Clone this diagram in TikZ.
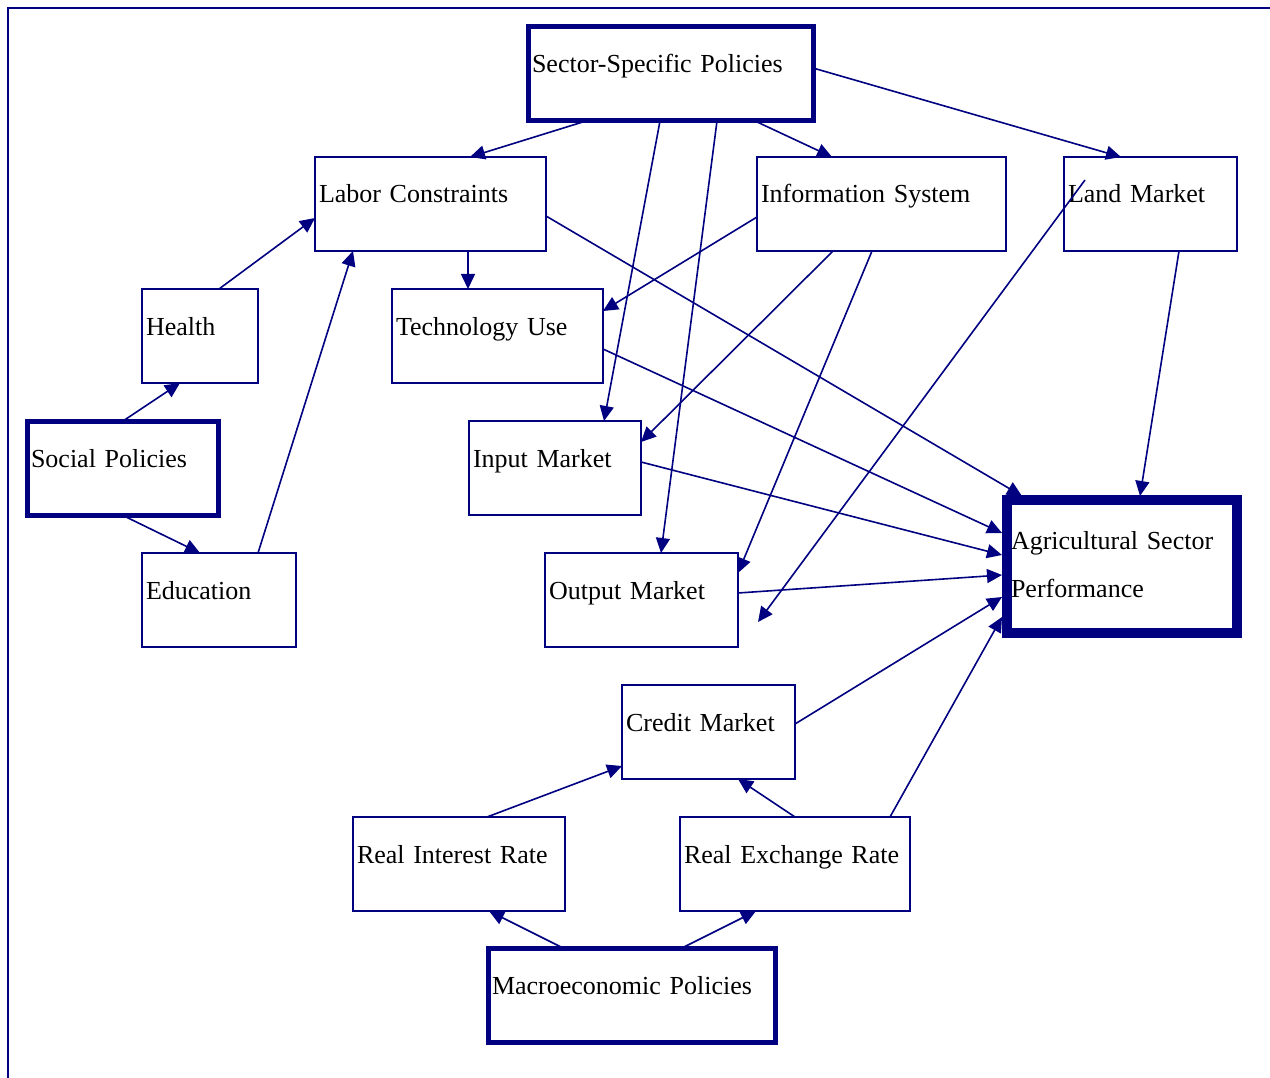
\documentclass[tikz,border=0pt]{standalone}
\usepackage{fontspec}
\setmainfont{Liberation Serif}
\usetikzlibrary{arrows.meta}
\definecolor{navy}{RGB}{0,0,128}
\begin{document}
\begin{tikzpicture}[x=1pt,y=1pt,
    box/.style={draw=navy,line width=1.5pt,anchor=north west,inner sep=4pt,outer sep=0pt,
      text height=42pt,text depth=44pt,align=left,font=\fontsize{26}{48}\selectfont},
    policy/.style={box,line width=5pt},
    target/.style={box,line width=10pt,text height=45pt,text depth=80pt},
    link/.style={navy,line width=1.6pt,-{Triangle[length=15pt,width=14pt]}}]
  \useasboundingbox (0,0) rectangle (1270,-1078);
  \draw[navy,line width=2pt] (8,-1078) -- (8,-8) -- (1270,-8);
  \node[policy,text width=277pt] (sector) at (528,-27) {Sector-Specific Policies};
  \node[box,text width=223pt] (labor) at (315,-157) {Labor Constraints};
  \node[box,text width=241pt] (info) at (757,-157) {Information System};
  \node[box,text width=165pt] (land) at (1064,-157) {Land Market};
  \node[box,text width=108pt] (health) at (142,-289) {Health};
  \node[box,text width=203pt] (tech) at (392,-289) {Technology Use};
  \node[policy,text width=183pt] (social) at (27,-421) {Social Policies};
  \node[box,text width=164pt] (input) at (469,-421) {Input Market};
  \node[box,text width=146pt] (edu) at (142,-553) {Education};
  \node[box,text width=185pt] (output) at (545,-553) {Output Market};
  \node[target,text width=222pt] (agri) at (1007,-500) {Agricultural Sector\\Performance};
  \node[box,text width=165pt] (credit) at (622,-685) {Credit Market};
  \node[box,text width=204pt] (interest) at (353,-817) {Real Interest Rate};
  \node[box,text width=222pt] (exchange) at (680,-817) {Real Exchange Rate};
  \node[policy,text width=279pt] (macro) at (488,-948) {Macroeconomic Policies};
  \coordinate (loose) at (758,-622);

  \draw[link] ([xshift=58pt]sector.south west) -- ([xshift=155pt]labor.north west);
  \draw[link] ([xshift=132pt]sector.south west) -- ([xshift=135pt]input.north west);
  \draw[link] ([xshift=189pt]sector.south west) -- ([xshift=116pt]output.north west);
  \draw[link] ([xshift=227pt]sector.south west) -- ([xshift=75pt]info.north west);
  \draw[link] ([yshift=-41pt]sector.north east) -- ([xshift=57pt]land.north west);
  \draw[link] ([xshift=153pt]labor.south west) -- ([xshift=76pt]tech.north west);
  \draw[link] ([yshift=-59pt]labor.north east) -- ([xshift=15pt,yshift=4pt]agri.north west);
  \draw[link] ([yshift=-60pt]info.north west) -- ([yshift=-22pt]tech.north east);
  \draw[link] ([xshift=76pt]info.south west) -- ([yshift=-21pt]input.north east);
  \draw[link] ([xshift=115pt]info.south west) -- ([yshift=-20pt]output.north east);
  \draw[link] ([xshift=21pt,yshift=-23pt]land.north west) -- (loose);
  \draw[link] ([xshift=115pt]land.south west) -- ([xshift=133pt,yshift=4pt]agri.north west);
  \draw[link] ([xshift=77pt]health.north west) -- ([yshift=-61pt]labor.north west);
  \draw[link] ([xshift=96pt]social.north west) -- ([xshift=38pt]health.south west);
  \draw[link] ([xshift=95pt]social.south west) -- ([xshift=58pt]edu.north west);
  \draw[link] ([xshift=116pt]edu.north west) -- ([xshift=38pt]labor.south west);
  \draw[link] ([yshift=-60pt]tech.north east) -- ([xshift=-5pt,yshift=-33pt]agri.north west);
  \draw[link] ([yshift=-41pt]input.north east) -- ([xshift=-5pt,yshift=-55pt]agri.north west);
  \draw[link] ([yshift=-40pt]output.north east) -- ([xshift=-5pt,yshift=-75pt]agri.north west);
  \draw[link] ([yshift=-39pt]credit.north east) -- ([xshift=-5pt,yshift=-97pt]agri.north west);
  \draw[link] ([xshift=210pt]exchange.north west) -- ([xshift=-5pt,yshift=-117pt]agri.north west);
  \draw[link] ([xshift=134pt]interest.north west) -- ([yshift=13pt]credit.south west);
  \draw[link] ([xshift=115pt]exchange.north west) -- ([xshift=116pt]credit.south west);
  \draw[link] ([xshift=75pt]macro.north west) -- ([xshift=136pt]interest.south west);
  \draw[link] ([xshift=194pt]macro.north west) -- ([xshift=76pt]exchange.south west);
\end{tikzpicture}
\end{document}
